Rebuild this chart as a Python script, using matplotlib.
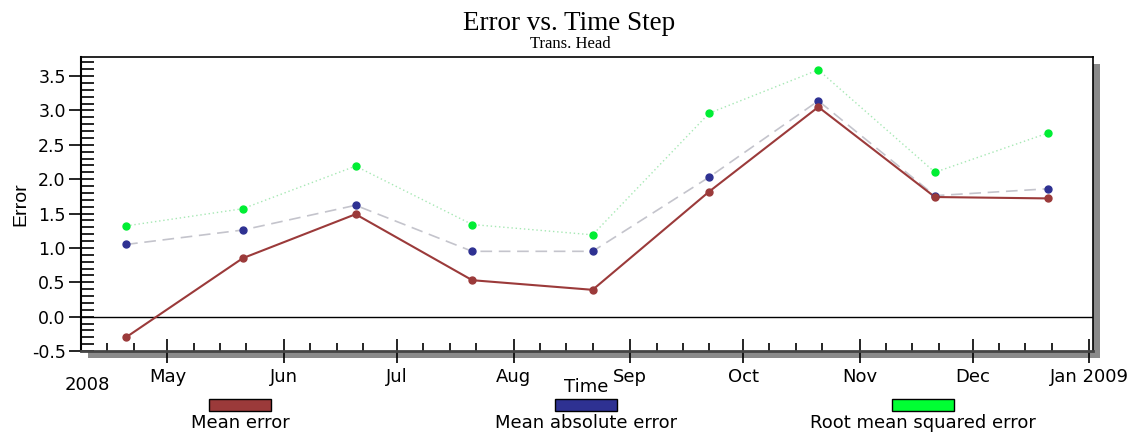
import numpy as np
import matplotlib
matplotlib.use('Agg')
import matplotlib.pyplot as plt
import matplotlib.dates as mdates
from matplotlib.patches import Rectangle
import datetime as dt

#_______________________________________________________________________________________________________________________
# DATA

dates = [dt.datetime(2008, 4, 20), dt.datetime(2008, 5, 21), dt.datetime(2008, 6, 20),
         dt.datetime(2008, 7, 21), dt.datetime(2008, 8, 22), dt.datetime(2008, 9, 22),
         dt.datetime(2008, 10, 21), dt.datetime(2008, 11, 21), dt.datetime(2008, 12, 21)]

mean_error = [-0.30, 0.85, 1.49, 0.53, 0.39, 1.82, 3.05, 1.74, 1.72]
mean_abs_error = [1.05, 1.26, 1.62, 0.95, 0.95, 2.03, 3.14, 1.76, 1.86]
rms_error = [1.32, 1.57, 2.19, 1.34, 1.19, 2.96, 3.59, 2.10, 2.67]

labels = ['Mean error', 'Mean absolute error', 'Root mean squared error']

plt.rcParams['font.family'] = ['DejaVu Sans']

#_______________________________________________________________________________________________________________________
# PLOT

fig = plt.figure(figsize=(11.34, 4.32), dpi=100)
ax = fig.add_axes([0.0714, 0.1875, 0.8924, 0.681])

# drop shadow behind the frame
fig.patches.append(Rectangle((0.0714 + 0.006, 0.1875 - 0.017), 0.8924, 0.681,
                             transform=fig.transFigure, facecolor='#8a8a8a',
                             edgecolor='none', zorder=-1))
ax.set_facecolor('white')

ax.axhline(0, color='black', lw=1, zorder=1)

ax.plot(dates, rms_error, color='#a6e8b4', lw=1, ls=(0, (1, 2)), zorder=2)
ax.plot(dates, rms_error, 'o', color='#00ee33', ms=5, zorder=3)
ax.plot(dates, mean_abs_error, color='#c4c4cc', lw=1.2, ls=(0, (7, 4)), zorder=2)
ax.plot(dates, mean_abs_error, 'o', color='#2e3192', ms=5, zorder=3)
ax.plot(dates, mean_error, color='#9b3a3a', lw=1.5, zorder=2)
ax.plot(dates, mean_error, 'o', color='#9b3a3a', ms=5, zorder=3)

ax.set_xlim(dt.datetime(2008, 4, 8), dt.datetime(2009, 1, 2))
ax.set_ylim(-0.5, 3.78)

# axes ticks
ax.xaxis.set_major_locator(mdates.MonthLocator())
ax.xaxis.set_minor_locator(mdates.DayLocator(bymonthday=[8, 15, 22]))
month_fmt = mdates.DateFormatter('%b')
ax.xaxis.set_major_formatter(plt.FuncFormatter(
    lambda v, p: 'Jan 2009' if mdates.num2date(v).month == 1 else month_fmt(v)))
ax.set_yticks(np.arange(-0.5, 3.51, 0.5))
ax.set_yticks(np.arange(-0.5, 3.75, 0.1), minor=True)
ax.yaxis.set_major_formatter(plt.FormatStrFormatter('%.1f'))

ax.tick_params(axis='y', which='major', direction='inout', length=18, width=1.2,
               labelsize=12.5, pad=2)
ax.tick_params(axis='y', which='minor', direction='in', length=9, width=1.2)
ax.tick_params(axis='x', which='major', direction='inout', length=17, width=1.2,
               labelsize=13, pad=4)
ax.tick_params(axis='x', which='minor', direction='in', length=6, width=1.2)

for side in ['top', 'right']:
    ax.spines[side].set_linewidth(1.2)
ax.spines['left'].set_linewidth(1.5)
ax.spines['bottom'].set_linewidth(2)
ax.spines['bottom'].set_color('#444444')

ax.set_ylabel('Error', family=['Liberation Sans Narrow', 'Liberation Sans'], fontsize=14, labelpad=2)

# titles
fig.text(0.502, 1 - 30 / 432, 'Error vs. Time Step', ha='center', va='baseline',
         family=['Liberation Serif', 'DejaVu Serif'], fontsize=19.5)
fig.text(0.503, 1 - 48 / 432, 'Trans. Head', ha='center', va='baseline',
         family=['Liberation Serif', 'DejaVu Serif'], fontsize=12)

fig.text(0.077, 0.108, '2008', ha='center', va='center', fontsize=13)
fig.text(0.517, 0.104, 'Time', ha='center', va='center', fontsize=13)

# legend boxes
leg_colors = ['#9b3a3a', '#2e3192', '#00ff33']
leg_x = [240, 586, 923]
for lab, col, x in zip(labels, leg_colors, leg_x):
    fig.patches.append(Rectangle(((x - 31) / 1134, 1 - 411 / 432), 62 / 1134, 12 / 432,
                                 transform=fig.transFigure, facecolor=col,
                                 edgecolor='black', lw=1))
    fig.text(x / 1134, 1 - 423 / 432, lab, ha='center', va='center', fontsize=13)

fig.savefig('out.png', dpi=100)
